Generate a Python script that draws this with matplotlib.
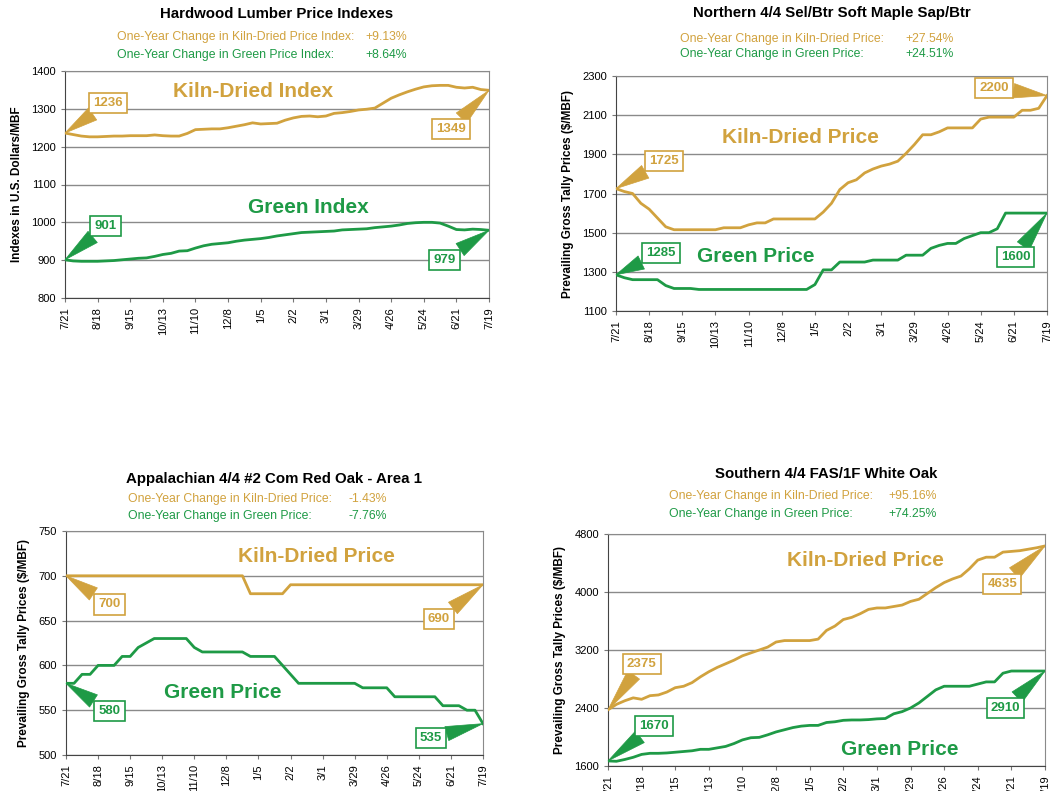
import matplotlib
matplotlib.use("Agg")
import matplotlib.pyplot as plt
import numpy as np

plt.rcParams['font.family'] = ['Liberation Sans', 'DejaVu Sans']

GOLD = '#D1A23E'
GREEN = '#1E9A46'

# x axis: 53 weekly observations, labelled every 4 weeks
week_labels = ['7/21', '8/18', '9/15', '10/13', '11/10', '12/8', '1/5', '2/2',
               '3/1', '3/29', '4/26', '5/24', '6/21', '7/19']

# Hardwood Lumber Price Indexes
hw_kd = [1236, 1232, 1228, 1226, 1226, 1227, 1228, 1228, 1229, 1229, 1229, 1231, 1229, 1228,
         1228, 1235, 1245, 1246, 1247, 1247, 1250, 1254, 1258, 1263, 1260, 1261, 1262, 1270,
         1276, 1280, 1281, 1279, 1281, 1288, 1290, 1293, 1297, 1299, 1302, 1315, 1328, 1337,
         1345, 1352, 1358, 1361, 1362, 1362, 1357, 1355, 1357, 1351, 1349]
hw_green = [901, 898, 897, 897, 897, 898, 899, 901, 903, 905, 906, 910, 915, 918,
            924, 925, 932, 938, 942, 944, 946, 950, 953, 955, 957, 960, 964, 967,
            970, 973, 974, 975, 976, 977, 980, 981, 982, 983, 986, 988, 990, 993,
            997, 999, 1000, 1000, 998, 990, 981, 980, 982, 981, 979]

# Northern 4/4 Sel/Btr Soft Maple Sap/Btr
sm_kd = [1725, 1710, 1700, 1650, 1620, 1575, 1530, 1515, 1515, 1515, 1515, 1515, 1515, 1525,
         1525, 1525, 1540, 1550, 1550, 1570, 1570, 1570, 1570, 1570, 1570, 1605, 1650, 1720,
         1755, 1770, 1805, 1825, 1840, 1850, 1865, 1905, 1950, 2000, 2000, 2015, 2035, 2035,
         2035, 2035, 2080, 2090, 2090, 2090, 2090, 2125, 2125, 2135, 2200]
sm_green = [1285, 1270, 1260, 1260, 1260, 1260, 1230, 1215, 1215, 1215, 1210, 1210, 1210, 1210,
            1210, 1210, 1210, 1210, 1210, 1210, 1210, 1210, 1210, 1210, 1235, 1310, 1310, 1350,
            1350, 1350, 1350, 1360, 1360, 1360, 1360, 1385, 1385, 1385, 1420, 1435, 1445, 1445,
            1470, 1485, 1500, 1500, 1520, 1600, 1600, 1600, 1600, 1600, 1600]

# Appalachian 4/4 #2 Com Red Oak - Area 1
ro_kd = [700, 700, 700, 700, 700, 700, 700, 700, 700, 700, 700, 700, 700, 700,
         700, 700, 700, 700, 700, 700, 700, 700, 700, 680, 680, 680, 680, 680,
         690, 690, 690, 690, 690, 690, 690, 690, 690, 690, 690, 690, 690, 690,
         690, 690, 690, 690, 690, 690, 690, 690, 690, 690, 690]
ro_green = [580, 580, 590, 590, 600, 600, 600, 610, 610, 620, 625, 630, 630, 630,
            630, 630, 620, 615, 615, 615, 615, 615, 615, 610, 610, 610, 610, 600,
            590, 580, 580, 580, 580, 580, 580, 580, 580, 575, 575, 575, 575, 565,
            565, 565, 565, 565, 565, 555, 555, 555, 550, 550, 535]

# Southern 4/4 FAS/1F White Oak
wo_kd = [2375, 2450, 2500, 2540, 2520, 2570, 2580, 2620, 2680, 2700, 2750, 2830, 2900, 2960,
         3010, 3060, 3120, 3160, 3200, 3240, 3310, 3330, 3330, 3330, 3330, 3350, 3470, 3530,
         3620, 3650, 3700, 3760, 3780, 3780, 3800, 3820, 3870, 3900, 3980, 4060, 4130, 4180,
         4220, 4320, 4440, 4480, 4480, 4550, 4560, 4570, 4590, 4610, 4635]
wo_green = [1670, 1665, 1690, 1720, 1760, 1775, 1775, 1780, 1790, 1800, 1810, 1830, 1830, 1850,
            1870, 1910, 1960, 1990, 1995, 2030, 2070, 2100, 2130, 2150, 2160, 2160, 2200, 2210,
            2230, 2235, 2235, 2240, 2250, 2255, 2320, 2350, 2400, 2470, 2560, 2650, 2700, 2700,
            2700, 2700, 2730, 2760, 2760, 2880, 2910, 2910, 2910, 2910, 2910]

titles = ['Hardwood Lumber Price Indexes', 'Northern 4/4 Sel/Btr Soft Maple Sap/Btr',
          'Appalachian 4/4 #2 Com Red Oak - Area 1', 'Southern 4/4 FAS/1F White Oak']
kd_change = ['+9.13%', '+27.54%', '-1.43%', '+95.16%']
green_change = ['+8.64%', '+24.51%', '-7.76%', '+74.25%']


def draw_panel(fig, rect, kd, green, ylim, yticks, ylabel, title, sub_kd, sub_green,
               kd_pct, green_pct, kd_name, green_name, kd_lbl_pos, green_lbl_pos,
               callouts, title_y, sub_x, sub_right, sub_y):
    ax = fig.add_axes(rect)
    x = np.arange(len(kd))
    ax.plot(x, kd, color=GOLD, lw=2, zorder=3)
    ax.plot(x, green, color=GREEN, lw=2, zorder=3)
    ax.set_xlim(0, len(kd) - 1)
    ax.set_ylim(*ylim)
    ax.set_yticks(yticks)
    ax.set_xticks(np.arange(0, len(kd), 4))
    ax.set_xticklabels(week_labels, rotation=90, fontsize=8)
    ax.tick_params(axis='y', labelsize=8, length=3, color='#777777')
    ax.tick_params(axis='x', length=3, color='#777777')
    ax.yaxis.grid(True, color='#8a8a8a', lw=1)
    ax.set_axisbelow(True)
    for s in ax.spines.values():
        s.set_color('#8a8a8a')
    ax.spines['left'].set_color('#444444')
    ax.spines['bottom'].set_color('#444444')
    ax.set_ylabel(ylabel, fontsize=8.5, fontweight='bold', labelpad=6)

    ax.text(kd_lbl_pos[0], kd_lbl_pos[1], kd_name, color=GOLD, fontsize=15,
            fontweight='bold', ha='center', va='center')
    ax.text(green_lbl_pos[0], green_lbl_pos[1], green_name, color=GREEN, fontsize=15,
            fontweight='bold', ha='center', va='center')

    for idx, series, color, tx, ty in callouts:
        ax.annotate(str(series[idx]), xy=(idx, series[idx]), xytext=(tx, ty),
                    fontsize=9.5, fontweight='bold', color=color, ha='center', va='center',
                    bbox=dict(boxstyle='square,pad=0.32', fc='white', ec=color, lw=1.2),
                    arrowprops=dict(arrowstyle='wedge,tail_width=1.1', fc=color, ec=color,
                                    lw=0.5, shrinkA=0, shrinkB=0),
                    zorder=5, annotation_clip=False)

    cx = rect[0] + rect[2] / 2
    fig.text(cx, title_y, title, fontsize=10.8, fontweight='bold', ha='center', va='center')
    fig.text(sub_x, sub_y[0], sub_kd, fontsize=8.8, color=GOLD, ha='left', va='center')
    fig.text(sub_right, sub_y[0], kd_pct, fontsize=8.8, color=GOLD, ha='right', va='center')
    fig.text(sub_x, sub_y[1], sub_green, fontsize=8.8, color=GREEN, ha='left', va='center')
    fig.text(sub_right, sub_y[1], green_pct, fontsize=8.8, color=GREEN, ha='right', va='center')
    return ax


W, H = 1051, 791
fig = plt.figure(figsize=(W / 100, H / 100), dpi=100)


def px_rect(l, r, t, b):
    return [l / W, 1 - b / H, (r - l) / W, (b - t) / H]


def fy(y):
    return 1 - y / H


draw_panel(fig, px_rect(65, 489, 71, 298), hw_kd, hw_green, (800, 1400),
           np.arange(800, 1401, 100), 'Indexes in U.S. Dollars/MBF', titles[0],
           'One-Year Change in Kiln-Dried Price Index:', 'One-Year Change in Green Price Index:',
           kd_change[0], green_change[0], 'Kiln-Dried Index', 'Green Index',
           (23.1, 1347), (29.8, 1040),
           [(0, hw_kd, GOLD, 5.3, 1315), (52, hw_kd, GOLD, 47.3, 1247),
            (0, hw_green, GREEN, 5.0, 990), (52, hw_green, GREEN, 46.5, 900)],
           fy(14), 117 / W, 407 / W, (fy(37), fy(55)))

draw_panel(fig, px_rect(616, 1047, 76, 311), sm_kd, sm_green, (1100, 2300),
           np.arange(1100, 2301, 200), 'Prevailing Gross Tally Prices ($/MBF)', titles[1],
           'One-Year Change in Kiln-Dried Price:', 'One-Year Change in Green Price:',
           kd_change[1], green_change[1], 'Kiln-Dried Price', 'Green Price',
           (22.2, 1988), (16.9, 1376),
           [(0, sm_kd, GOLD, 5.8, 1866), (52, sm_kd, GOLD, 45.6, 2239),
            (0, sm_green, GREEN, 5.4, 1396), (52, sm_green, GREEN, 48.2, 1376)],
           fy(13), 680 / W, 954 / W, (fy(39), fy(54)))

draw_panel(fig, px_rect(66, 483, 531, 755), ro_kd, ro_green, (500, 750),
           np.arange(500, 751, 50), 'Prevailing Gross Tally Prices ($/MBF)', titles[2],
           'One-Year Change in Kiln-Dried Price:', 'One-Year Change in Green Price:',
           kd_change[2], green_change[2], 'Kiln-Dried Price', 'Green Price',
           (31.2, 721), (19.5, 570),
           [(0, ro_kd, GOLD, 5.4, 668), (52, ro_kd, GOLD, 46.5, 652),
            (0, ro_green, GREEN, 5.4, 549), (52, ro_green, GREEN, 45.5, 519)],
           fy(479), 128 / W, 387 / W, (fy(499), fy(516)))

draw_panel(fig, px_rect(608, 1045, 534, 766), wo_kd, wo_green, (1600, 4800),
           np.arange(1600, 4801, 800), 'Prevailing Gross Tally Prices ($/MBF)', titles[3],
           'One-Year Change in Kiln-Dried Price:', 'One-Year Change in Green Price:',
           kd_change[3], green_change[3], 'Kiln-Dried Price', 'Green Price',
           (30.6, 4428), (34.7, 1834),
           [(0, wo_kd, GOLD, 4.0, 3007), (52, wo_kd, GOLD, 46.9, 4110),
            (0, wo_green, GREEN, 5.5, 2152), (52, wo_green, GREEN, 47.3, 2400)],
           fy(474), 669 / W, 937 / W, (fy(496), fy(514)))

fig.savefig('out.png', dpi=100, facecolor='white')
